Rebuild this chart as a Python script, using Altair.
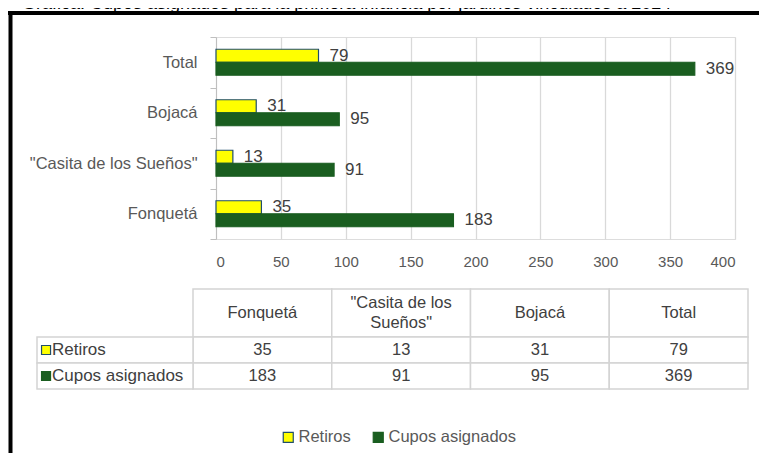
import altair as alt
import pandas as pd

# ---- data ----
categories = ["Fonquetá", "\"Casita de los Sueños\"", "Bojacá", "Total"]
header_labels = ["Fonquetá", "\"Casita de los\nSueños\"", "Bojacá", "Total"]
series = ["Retiros", "Cupos asignados"]
retiros = [35, 13, 31, 79]
cupos = [183, 91, 95, 369]
x_ticks = [0, 50, 100, 150, 200, 250, 300, 350, 400]
title_text = "Gráfica: Cupos asignados para la primera infancia por jardines vinculados a 2024"

# ---- styles ----
YELLOW = "#FFFF00"
GREEN = "#1A5E20"
EDGE = "#1F4E6B"
GRID = "#D9D9D9"
TABLE_LINE = "#D4D4D4"
TXT = "#404040"
AX = "#595959"
FONT = "Liberation Sans"

values_by_series = {"Retiros": retiros, "Cupos asignados": cupos}
rows = []
for s in series:
    for i, c in enumerate(categories):
        rows.append({"categoria": c, "serie": s, "valor": values_by_series[s][i],
                     "columna": c, "encabezado": header_labels[i]})
df = pd.DataFrame(rows)
y_order = list(reversed(categories))

legend_def = alt.Legend(orient="none", legendX=64, legendY=392, direction="horizontal",
                        title=None, symbolType="square", symbolSize=100,
                        symbolStrokeWidth=1.2, labelFontSize=16.5, labelColor=AX,
                        labelFont=FONT, columnPadding=19, labelOffset=2, padding=0)
color_enc = alt.Color("serie:N", scale=alt.Scale(domain=series, range=[YELLOW, GREEN]),
                      legend=legend_def, title=None)
stroke_enc = alt.Stroke("serie:N", scale=alt.Scale(domain=series, range=[EDGE, GREEN]),
                        legend=legend_def, title=None)

y_bar = alt.Y("categoria:N", sort=y_order,
              scale=alt.Scale(domain=y_order, paddingInner=0, paddingOuter=0),
              axis=alt.Axis(title=None, tickBand="extent", grid=False,
                            domainColor="#BFBFBF", tickColor="#BFBFBF", tickSize=6,
                            labelFontSize=16.5, labelColor=AX, labelFont=FONT,
                            labelPadding=13))
y_off = alt.YOffset("serie:N", sort=series,
                    scale=alt.Scale(domain=series, paddingInner=0, paddingOuter=0.94))
x_bar = alt.X("valor:Q", scale=alt.Scale(domain=[0, 400], nice=False),
              axis=alt.Axis(values=x_ticks, title=None, domain=False, ticks=False,
                            grid=True, gridColor=GRID, gridWidth=1.3,
                            labelFontSize=15, labelColor=AX, labelFont=FONT,
                            labelPadding=15))

base = alt.Chart(df)
bars = base.mark_bar(strokeWidth=1.2).encode(
    x=x_bar, y=y_bar, yOffset=y_off, color=color_enc, stroke=stroke_enc)
bar_labels = base.mark_text(align="left", baseline="middle", dx=11, fontSize=17,
                            color=TXT, font=FONT).encode(
    x="valor:Q", y=alt.Y("categoria:N", sort=y_order), yOffset=alt.YOffset("serie:N", sort=series),
    text="valor:Q")
plot = alt.layer(bars, bar_labels)

# ---- data table below the chart ----
x_col = alt.X("columna:N", sort=categories,
              scale=alt.Scale(domain=categories, range=[-23, 532], paddingInner=0, paddingOuter=0),
              axis=None)
hdr_df = df[df["serie"] == series[0]][["columna", "encabezado"]].assign(fila="encabezado")
hdr_df["lineas"] = hdr_df["encabezado"].str.count("\n") + 1
y_hdr = alt.Y("fila:N", scale=alt.Scale(domain=["encabezado"], range=[252, 300],
                                        paddingInner=0, paddingOuter=0), axis=None)
hdr = alt.layer(
    alt.Chart(hdr_df).mark_rect(fill="white", stroke=TABLE_LINE, strokeWidth=1.5).encode(x=x_col, y=y_hdr),
    alt.Chart(hdr_df).transform_filter("datum.lineas == 1").mark_text(
        fontSize=16.5, color=TXT, font=FONT).encode(x=x_col, y=y_hdr, text="encabezado:N"),
    alt.Chart(hdr_df).transform_filter("datum.lineas > 1").mark_text(
        lineBreak="\n", lineHeight=20, dy=-10, fontSize=16.5, color=TXT, font=FONT).encode(
        x=x_col, y=y_hdr, text="encabezado:N"),
)

y_row = alt.Y("serie:N", sort=series, scale=alt.Scale(domain=series, range=[300, 352],
                                                      paddingInner=0, paddingOuter=0), axis=None)
cells = alt.layer(
    base.mark_rect(fill="white", stroke=TABLE_LINE, strokeWidth=1.5).encode(x=x_col, y=y_row),
    base.mark_text(fontSize=16.5, color=TXT, font=FONT).encode(x=x_col, y=y_row, text="valor:Q"),
)

lab_df = pd.DataFrame({"serie": series, "bloque": ["serie"] * len(series)})
x_lab_scale = alt.Scale(domain=["serie"], range=[-179, -23], paddingInner=0, paddingOuter=0)
lab = alt.layer(
    alt.Chart(lab_df).mark_rect(fill="white", stroke=TABLE_LINE, strokeWidth=1.5).encode(
        x=alt.X("bloque:N", scale=x_lab_scale, axis=None), y=y_row),
    alt.Chart(lab_df).mark_point(shape="square", size=81, filled=True, strokeWidth=1.2, opacity=1).encode(
        x=alt.X("bloque:N", scale=x_lab_scale, axis=None, bandPosition=0.058), y=y_row,
        fill=alt.Fill("serie:N", scale=alt.Scale(domain=series, range=[YELLOW, GREEN]), legend=None),
        stroke=alt.Stroke("serie:N", scale=alt.Scale(domain=series, range=[EDGE, GREEN]), legend=None)),
    alt.Chart(lab_df).mark_text(align="left", fontSize=17, color=TXT, font=FONT).encode(
        x=alt.X("bloque:N", scale=x_lab_scale, axis=None, bandPosition=0.096), y=y_row, text="serie:N"),
)

# ---- title (cut at top as in the reference) and frame ----
one = pd.DataFrame({"t": [title_text]})
title_layer = alt.Chart(one).mark_text(align="left", baseline="alphabetic", fontSize=18,
                                       color="black", font=FONT).encode(
    x=alt.value(-194), y=alt.value(-28), text="t:N")
frame_top = alt.Chart(one).mark_rule(color="black", strokeWidth=4).encode(
    x=alt.value(-208), x2=alt.value(543), y=alt.value(-24))
frame_left = alt.Chart(one).mark_rule(color="black", strokeWidth=4).encode(
    x=alt.value(-205.5), y=alt.value(-26), y2=alt.value(416))

chart = alt.layer(title_layer, plot, hdr, cells, lab, frame_top, frame_left).resolve_scale(
    x="independent", y="independent"
).properties(
    width=519, height=202,
    padding={"left": 208, "top": 29, "right": 24, "bottom": 214},
    autosize=alt.AutoSizeParams(type="none"),
    background="white",
).configure_view(stroke=None).configure(font=FONT)

chart.save("out.html", embed_options={"renderer": "svg", "actions": False})
